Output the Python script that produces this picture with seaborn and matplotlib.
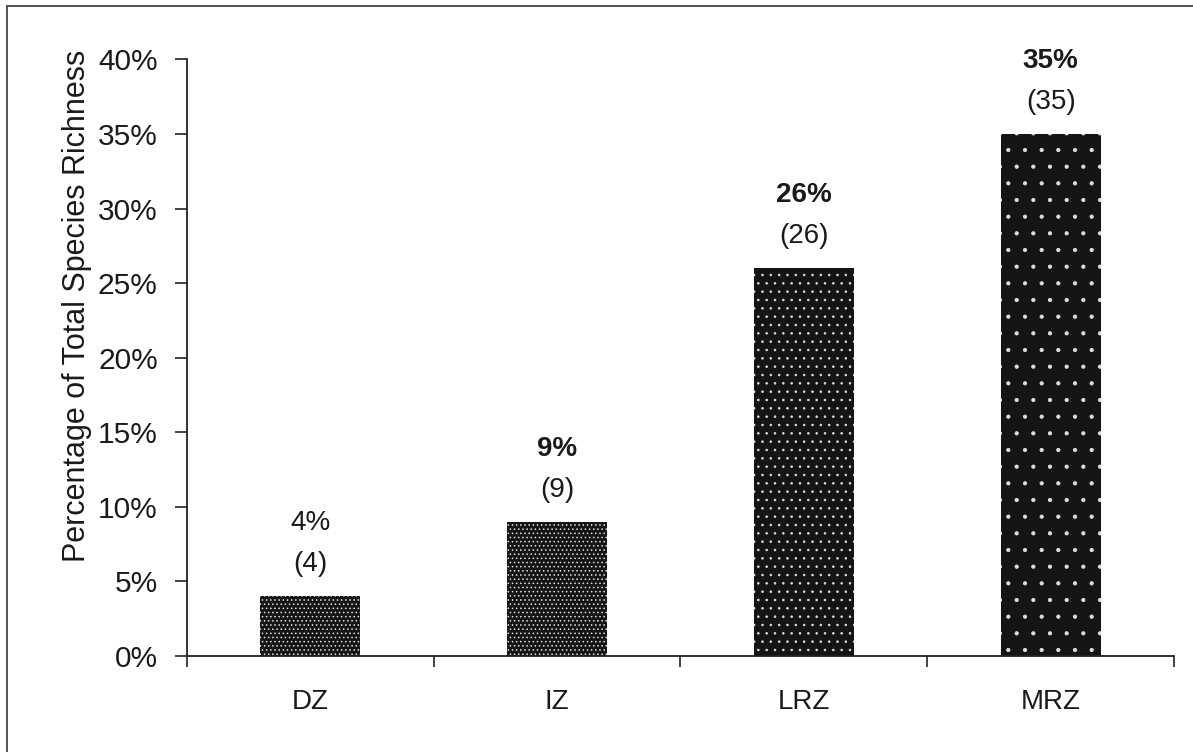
import matplotlib
matplotlib.use("Agg")
import matplotlib.pyplot as plt
from matplotlib.lines import Line2D
from matplotlib.ticker import FuncFormatter, FixedLocator
import seaborn as sns

# Species richness by zone
zones = ["DZ", "IZ", "LRZ", "MRZ"]
percent = [4, 9, 26, 35]
counts = [4, 9, 26, 35]
pct_bold = [False, True, True, True]
speckle = ["....", "....", "..", "."]

sns.set_theme(style="white")
plt.rcParams["font.family"] = ["Liberation Sans", "DejaVu Sans"]
plt.rcParams["hatch.linewidth"] = 0.6

fig = plt.figure(figsize=(11.93, 7.52), dpi=100)
ax = fig.add_axes([0.1567, 0.1277, 0.8274, 0.7933])

sns.barplot(x=zones, y=percent, color="#151515", saturation=1,
            width=0.405, ax=ax)

for bar, h in zip(ax.patches, speckle):
    bar.set_hatch(h)
    bar.set_edgecolor("#e0e0e0")
    bar.set_linewidth(0)

ax.set_xlim(-0.5, 3.5)
ax.set_ylim(0, 40)
ax.set_yticks(range(0, 41, 5))
ax.yaxis.set_major_formatter(FuncFormatter(lambda v, p: f"{v:.0f}%"))

for side in ("top", "right"):
    ax.spines[side].set_visible(False)
for side in ("left", "bottom"):
    ax.spines[side].set_color("#222222")
    ax.spines[side].set_linewidth(1.3)

ax.tick_params(axis="y", which="major", left=True, length=9, width=1.2,
               color="#222222", labelsize=21.5, pad=12, labelcolor="#1a1a1a")
ax.tick_params(axis="x", which="major", bottom=False, length=0,
               labelsize=20, pad=24, labelcolor="#1a1a1a")
ax.xaxis.set_minor_locator(FixedLocator([-0.5, 0.5, 1.5, 2.5, 3.5]))
ax.tick_params(axis="x", which="minor", bottom=True, length=8, width=1.2,
               color="#222222")

ax.set_xlabel("")
ax.set_ylabel("Percentage of Total Species Richness", fontsize=22,
              color="#1a1a1a", labelpad=4)
ax.yaxis.label.set_y(0.587)

for i, (p, n, b) in enumerate(zip(percent, counts, pct_bold)):
    ax.annotate(f"({n})", xy=(i, p), xytext=(0, 32), textcoords="offset pixels",
                ha="center", va="center", fontsize=20, color="#1a1a1a")
    ax.annotate(f"{p}%", xy=(i, p), xytext=(0, 73), textcoords="offset pixels",
                ha="center", va="center", fontsize=20, color="#1a1a1a",
                fontweight="bold" if b else "normal")

# Frame lines along the top and left edges of the figure
fig.add_artist(Line2D([7 / 1193, 1.0], [1 - 6 / 752, 1 - 6 / 752],
                      transform=fig.transFigure, color="#444444", lw=1.3))
fig.add_artist(Line2D([7 / 1193, 7 / 1193], [0.0, 1 - 6 / 752],
                      transform=fig.transFigure, color="#444444", lw=1.3))

fig.savefig("out.png", dpi=100)
